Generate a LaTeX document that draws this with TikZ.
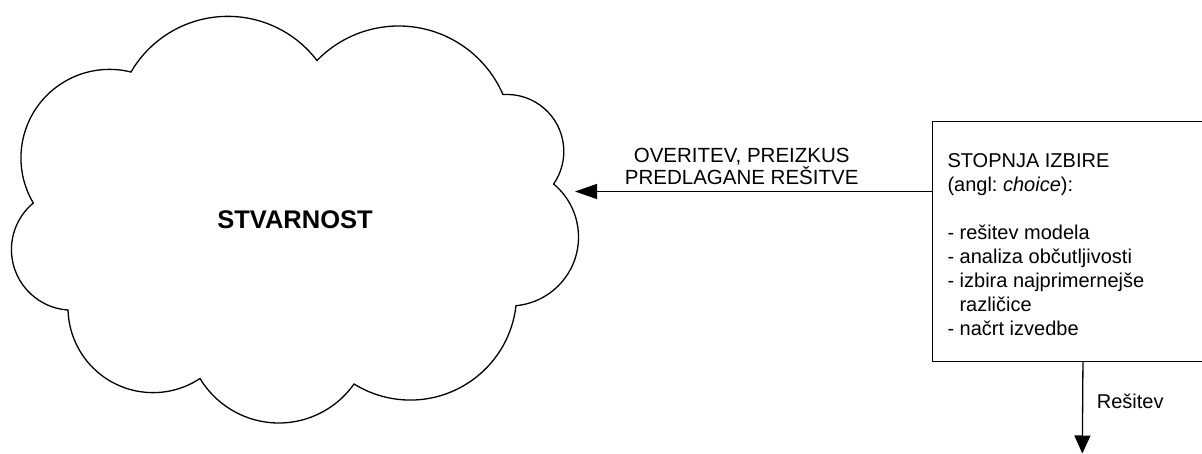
\documentclass[tikz,border=0pt]{standalone}
\usepackage{fontspec}
\setmainfont{Liberation Sans}
\usetikzlibrary{arrows.meta,calc}
\frenchspacing
% one bulge of the cloud: circular arc from (#1,#2) through (#3,#4) to (#5,#6), drawn clockwise
\newcommand\cloudlobe[6]{%
  \pgfmathsetmacro\lbx{(#3-#1)/100}\pgfmathsetmacro\lby{(#4-#2)/100}%
  \pgfmathsetmacro\lcx{(#5-#1)/100}\pgfmathsetmacro\lcy{(#6-#2)/100}%
  \pgfmathsetmacro\lbb{\lbx*\lbx+\lby*\lby}%
  \pgfmathsetmacro\lcc{\lcx*\lcx+\lcy*\lcy}%
  \pgfmathsetmacro\ld{2*(\lbx*\lcy-\lby*\lcx)}%
  \pgfmathsetmacro\lux{(\lcy*\lbb-\lby*\lcc)/\ld}%
  \pgfmathsetmacro\luy{(\lbx*\lcc-\lcx*\lbb)/\ld}%
  \pgfmathsetmacro\lr{100*sqrt(\lux*\lux+\luy*\luy)}%
  \pgfmathsetmacro\lsa{atan2(-\luy,-\lux)}%
  \pgfmathsetmacro\lea{atan2(\lcy-\luy,\lcx-\lux)}%
  \pgfmathsetmacro\lsw{mod(\lsa-\lea+720,360)}%
  \draw[line, line cap=round] (#1,#2) arc[start angle=\lsa, delta angle=-\lsw, radius=\lr pt];}
\begin{document}
\frenchspacing
\begin{tikzpicture}[x=1pt,y=1pt,
  line/.style={line width=1.3pt},
  flow/.style={line, -{Triangle[length=22pt,width=15pt]}},
  flowdown/.style={line, -{Triangle[length=18pt,width=16pt]}},
  txt/.style={inner sep=0pt, font=\fontsize{20}{24}\selectfont},
  stagebox/.style={draw, line width=1.3pt, minimum width=301.6pt, minimum height=240pt, inner sep=0pt}]
\useasboundingbox (0,0) rectangle (1202,-454);
\clip (0,0) rectangle (1202,-454);

% cloud outline
\cloudlobe{131}{-72}{222}{-16.5}{317}{-60.5}
\cloudlobe{317}{-60.5}{400}{-26}{503}{-94.6}
\cloudlobe{503}{-94.6}{563}{-141.8}{553.6}{-184}
\cloudlobe{553.6}{-184}{578.5}{-235.6}{516}{-305.7}
\cloudlobe{516}{-305.7}{414}{-400}{354}{-384}
\cloudlobe{354}{-384}{280}{-423}{200}{-378.5}
\cloudlobe{200}{-378.5}{122.6}{-387}{68}{-310}
\cloudlobe{68}{-310}{11.5}{-247}{33.3}{-203}
\cloudlobe{33.3}{-203}{21}{-161}{131}{-72}

\node[inner sep=0pt, anchor=base, font=\bfseries\fontsize{25.5}{30}\selectfont] (stvarnost) at (295,-228.7) {STVARNOST};
\coordinate (vhod) at (575,-191.5);

% choice stage
\node[stagebox, anchor=north west] (izbira) at (931.5,-120.7) {};
\node[txt, anchor=north west, align=left] (izbiratxt) at (947.3,-153.2)
  {STOPNJA IZBIRE\\(angl: \textit{choice}):\\[24pt]- rešitev modela\\- analiza občutljivosti\\- izbira najprimernejše\\\hspace*{12pt}različice\\- načrt izvedbe};

% feedback to reality
\draw[flow] (izbira.west |- vhod) -- (vhod);
\node[txt, anchor=south, align=center, font=\fontsize{20.5}{22}\selectfont] (preizkus) at (741.7,-184.5)
  {OVERITEV, PREIZKUS\\PREDLAGANE REŠITVE};

% solution output
\coordinate (izhod) at (1082.3,-453.5);
\draw[flowdown] (izbira.south) -- (izhod);
\node[txt, anchor=base west] (resitev) at (1096.7,-408.3) {Rešitev};
\end{tikzpicture}
\end{document}
